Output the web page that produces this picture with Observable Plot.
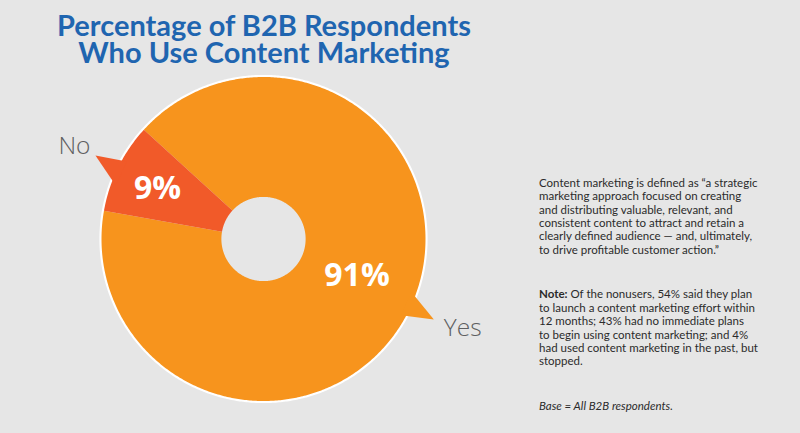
<!DOCTYPE html>
<html><head><meta charset="utf-8">
<script src="https://cdn.jsdelivr.net/npm/d3@7"></script>
<script src="https://cdn.jsdelivr.net/npm/@observablehq/plot@0.6"></script>
<style>
html,body{margin:0;padding:0;background:#E6E6E6;width:800px;height:433px;overflow:hidden;}
#wrap{position:relative;width:800px;height:433px;}
#chart{position:absolute;left:0;top:0;}
.tl{position:absolute;left:0;width:528px;height:27px;text-align:center;font-family:Lato,sans-serif;font-weight:bold;font-size:29px;color:#1F65B0;line-height:27px;white-space:nowrap;}
#t1{top:11px;} #t2{top:38px;}
.side{position:absolute;left:539px;font-family:Lato,sans-serif;font-size:11.5px;line-height:13.4px;color:#2b2b2b;white-space:nowrap;}
#defn{top:175.8px;}
#note{top:287.4px;}
#base{top:399px;font-style:italic;}
</style></head>
<body><div id="wrap"><div id="chart"></div><div class="tl" id="t1"></div><div class="tl" id="t2"></div>
<div class="side" id="defn"></div><div class="side" id="note"></div><div class="side" id="base"></div></div>
<script>
// ---- data ----
const categories = ["Yes", "No"];
const values = [91, 9];
const pctLabels = ["91%", "9%"];
const sliceColors = ["#F7941D", "#F15A29"];
const titleLines = ["Percentage of B2B Respondents", "Who Use Content Marketing"];
const definitionLines = [
  "Content marketing is defined as \u201ca strategic",
  "marketing approach focused on creating",
  "and distributing valuable, relevant, and",
  "consistent content to attract and retain a",
  "clearly defined audience \u2014 and, ultimately,",
  "to drive profitable customer action.\u201d"
];
const noteLabel = "Note:";
const noteLines = [
  " Of the nonusers, 54% said they plan",
  "to launch a content marketing effort within",
  "12 months; 43% had no immediate plans",
  "to begin using content marketing; and 4%",
  "had used content marketing in the past, but",
  "stopped."
];
const baseText = "Base = All B2B respondents.";

// ---- layout ----
const rad = d => d * Math.PI / 180;
const startDeg = -47.6;
const innerR = 0.26;
const tails = {Yes: {a0: 109.7, a1: 119, tip: 115.3, tipR: 1.163, labelA: 111.4, labelR: 0.62},
               No:  {a0: 289.9, a1: 299.6, tip: 296.4, tipR: 1.158, labelA: 295.5, labelR: 0.725}};

function sample(a0, a1, r) {
  const n = Math.ceil(Math.abs(a1 - a0) / 0.01) + 1, pts = [];
  for (let k = 0; k < n; k++) { const a = a0 + (a1 - a0) * k / (n - 1); pts.push({x: r * Math.sin(a), y: r * Math.cos(a)}); }
  return pts;
}
const pie = d3.pie().sort(null).startAngle(rad(startDeg)).endAngle(rad(startDeg + 360))(values);
const slicePts = pie.flatMap((p, i) => {
  const outer = sample(p.startAngle, p.endAngle, 1), inner = sample(p.endAngle, p.startAngle, innerR);
  return [...outer, ...inner, outer[0]].map(pt => ({...pt, cat: categories[i]}));
});
// thin white outline ring around the outer edge (annulus)
const ringOuter = sample(0, 2 * Math.PI, 1.013), ringInner = sample(2 * Math.PI, 0, 0.99);
const ringPts = [...ringOuter, ...ringInner, ringOuter[0]];
const pol = (a, r) => ({x: r * Math.sin(rad(a)), y: r * Math.cos(rad(a))});
const tailPts = categories.flatMap(c => {
  const t = tails[c];
  return [pol(t.a0, 0.97), pol(t.tip, t.tipR), pol(t.a1, 0.97), pol(t.a0, 0.97)].map(pt => ({...pt, cat: c}));
});
const pctData = categories.map((c, i) => ({...pol(tails[c].labelA, tails[c].labelR), text: pctLabels[i]}));
const nameData = categories.map(c => ({...pol(tails[c].tip, tails[c].tipR), text: c}));

const chart = Plot.plot({
  width: 800, height: 433,
  marginLeft: 101, marginRight: 375, marginTop: 76.5, marginBottom: 32.5,
  x: {domain: [-1, 1], axis: null},
  y: {domain: [-1, 1], axis: null},
  color: {domain: categories, range: sliceColors},
  style: {background: "transparent", overflow: "visible"},
  marks: [
    Plot.line(ringPts, {x: "x", y: "y", fill: "white", stroke: "none"}),
    Plot.line(slicePts, {x: "x", y: "y", z: "cat", fill: "cat", stroke: "none"}),
    Plot.line(tailPts, {x: "x", y: "y", z: "cat", fill: "cat", stroke: "none"}),
    Plot.text(pctData, {x: "x", y: "y", text: "text", fill: "white", fontSize: 32, fontWeight: "bold", fontFamily: "Open Sans"}),
    Plot.text(nameData, {filter: d => d.text === "No", x: "x", y: "y", text: "text", textAnchor: "end", dx: -5, dy: -9, fill: "#5E5F61", fontSize: 24.5, fontWeight: 300, fontFamily: "Open Sans"}),
    Plot.text(nameData, {filter: d => d.text === "Yes", x: "x", y: "y", text: "text", textAnchor: "start", dx: 10, dy: 9, fill: "#5E5F61", fontSize: 24.5, fontWeight: 300, fontFamily: "Open Sans"})
  ]
});
document.getElementById("chart").appendChild(chart);
document.getElementById("t1").textContent = titleLines[0];
document.getElementById("t2").textContent = titleLines[1];
document.getElementById("defn").innerHTML = definitionLines.join("<br>");
document.getElementById("note").innerHTML = "<b>" + noteLabel + "</b>" + noteLines.join("<br>");
document.getElementById("base").textContent = baseText;
</script></body></html>
